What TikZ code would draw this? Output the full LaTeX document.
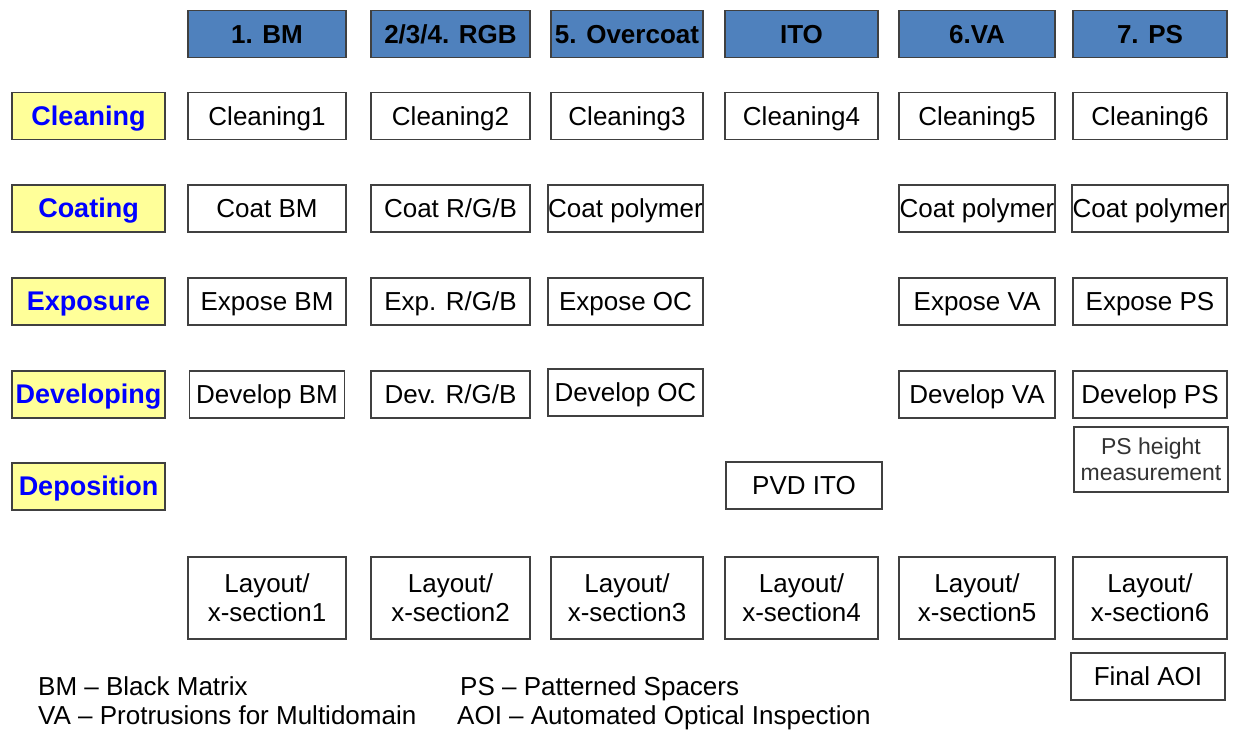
\documentclass[tikz,border=0pt]{standalone}
\usepackage{fontspec}
\setmainfont{Liberation Sans}
\definecolor{hdrblue}{HTML}{4F81BD}
\definecolor{lblyellow}{HTML}{FFFF99}
\definecolor{lblblue}{HTML}{0000FF}
\definecolor{edge}{HTML}{404040}
\begin{document}
\begin{tikzpicture}[x=1pt,y=-1pt,
  base/.style={draw=edge, line width=1.6pt, inner sep=0pt, minimum height=47pt, text height=20pt, text depth=1.4pt, font=\fontsize{26}{29}\selectfont},
  hdr/.style={base, fill=hdrblue, font=\fontsize{26}{29}\selectfont\bfseries},
  lbl/.style={base, fill=lblyellow, text=lblblue, font=\fontsize{27}{30}\selectfont\bfseries, minimum width=153pt},
  stepbox/.style={base, fill=white},
  tallbox/.style={draw=edge, line width=1.6pt, inner sep=0pt, fill=white, minimum height=82pt, align=center, font=\fontsize{26}{29}\selectfont},
  legend/.style={anchor=base west, inner sep=0pt, font=\fontsize{26}{29}\selectfont}
]
\useasboundingbox (0,0) rectangle (1236,730);
\fill[white] (0,0) rectangle (1236,730);

% headers
\node[hdr, minimum width=158pt] (h1) at (267,34) {1. BM};
\node[hdr, minimum width=159pt] (h2) at (450.5,34) {2/3/4. RGB};
\node[hdr, minimum width=152pt] (h3) at (627,34) {5. Overcoat};
\node[hdr, minimum width=153pt] (h4) at (801.5,34) {ITO};
\node[hdr, minimum width=156pt] (h5) at (977,34) {6.VA};
\node[hdr, minimum width=154pt] (h6) at (1150,34) {7. PS};

% row labels
\node[lbl] (lclean) at (88.5,116) {Cleaning};
\node[lbl] (lcoat) at (88.5,208.5) {Coating};
\node[lbl] (lexp) at (88.5,301.5) {Exposure};
\node[lbl] (ldev) at (88.5,394.5) {Developing};
\node[lbl] (ldep) at (88.5,486.5) {Deposition};

% cleaning
\node[stepbox, minimum width=158pt] (c1) at (267,116) {Cleaning1};
\node[stepbox, minimum width=159pt] (c2) at (450.5,116) {Cleaning2};
\node[stepbox, minimum width=152pt] (c3) at (627,116) {Cleaning3};
\node[stepbox, minimum width=153pt] (c4) at (801.5,116) {Cleaning4};
\node[stepbox, minimum width=156pt] (c5) at (977,116) {Cleaning5};
\node[stepbox, minimum width=154pt] (c6) at (1150,116) {Cleaning6};

% coating
\node[stepbox, minimum width=158pt] (k1) at (267,208.5) {Coat BM};
\node[stepbox, minimum width=159pt] (k2) at (450.5,208.5) {Coat R/G/B};
\node[stepbox, minimum width=155pt] (k3) at (625.5,208.5) {Coat polymer};
\node[stepbox, minimum width=156pt] (k5) at (977,208.5) {Coat polymer};
\node[stepbox, minimum width=156pt] (k6) at (1150,208.5) {Coat polymer};

% exposure
\node[stepbox, minimum width=158pt] (e1) at (267,301.5) {Expose BM};
\node[stepbox, minimum width=159pt] (e2) at (450.5,301.5) {Exp. R/G/B};
\node[stepbox, minimum width=155pt] (e3) at (625.5,301.5) {Expose OC};
\node[stepbox, minimum width=156pt] (e5) at (977,301.5) {Expose VA};
\node[stepbox, minimum width=154pt] (e6) at (1150,301.5) {Expose PS};

% developing
\node[stepbox, minimum width=155pt] (d1) at (267,394.5) {Develop BM};
\node[stepbox, minimum width=159pt] (d2) at (450.5,394.5) {Dev. R/G/B};
\node[stepbox, minimum width=155pt] (d3) at (625.5,392.5) {Develop OC};
\node[stepbox, minimum width=156pt] (d5) at (977,394.5) {Develop VA};
\node[stepbox, minimum width=154pt] (d6) at (1150,394.5) {Develop PS};

% deposition / extra
\node[stepbox, minimum width=156pt] (p4) at (804,485.5) {PVD ITO};
\node[tallbox, minimum width=154pt, minimum height=65pt, text=black!80, font=\fontsize{23}{26}\selectfont] (ps6) at (1151,459.5) {PS height\\measurement};

% layout
\node[tallbox, minimum width=158pt] (l1) at (267,598) {Layout/\\x-section1};
\node[tallbox, minimum width=159pt] (l2) at (450.5,598) {Layout/\\x-section2};
\node[tallbox, minimum width=152pt] (l3) at (627,598) {Layout/\\x-section3};
\node[tallbox, minimum width=153pt] (l4) at (801.5,598) {Layout/\\x-section4};
\node[tallbox, minimum width=156pt] (l5) at (977,598) {Layout/\\x-section5};
\node[tallbox, minimum width=154pt] (l6) at (1150,598) {Layout/\\x-section6};

\node[stepbox, minimum width=154pt] (aoi) at (1148,676.5) {Final AOI};

% legend
\node[legend] (lg1) at (38,695) {BM -- Black Matrix};
\node[legend] (lg2) at (38,724) {VA -- Protrusions for Multidomain};
\node[legend] (lg3) at (460,695) {PS -- Patterned Spacers};
\node[legend] (lg4) at (457,724) {AOI -- Automated Optical Inspection};
\end{tikzpicture}
\end{document}
